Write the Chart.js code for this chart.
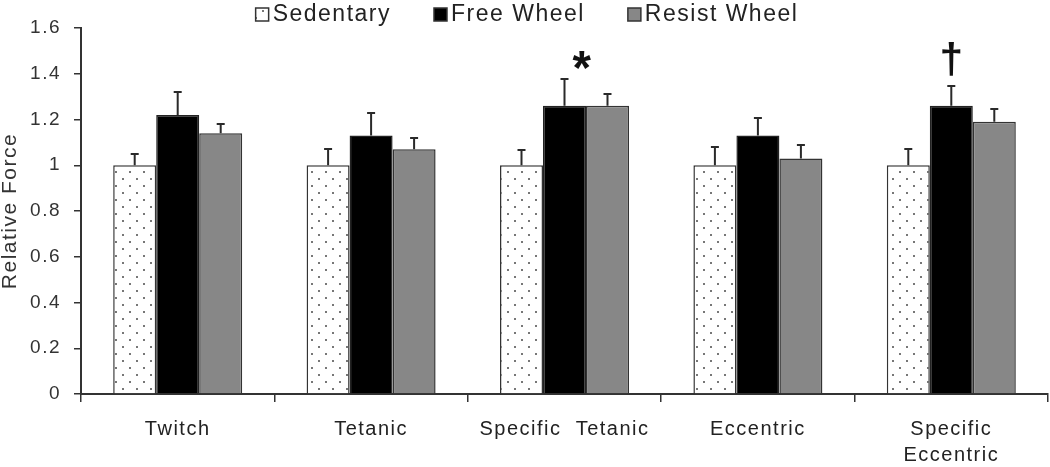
<!DOCTYPE html>
<html>
<head>
<meta charset="utf-8">
<script src="https://cdn.jsdelivr.net/npm/chart.js@4/dist/chart.umd.min.js"></script>
<style>
  body { margin: 0; background: #fff; }
  #wrap { width: 1050px; height: 467px; }
</style>
</head>
<body>
<div id="wrap"><canvas id="bar-chart" width="1050" height="467"></canvas></div>
<script>
// dati del grafico
var categorie = ['Twitch', 'Tetanic', 'Specific  Tetanic', 'Eccentric', ['Specific', 'Eccentric']];
var sedentary = [1.0, 1.0, 1.0, 1.0, 1.0];
var freeWheel = [1.22, 1.13, 1.26, 1.13, 1.26];
var resistWheel = [1.14, 1.07, 1.26, 1.03, 1.19];
var errSedentary = [0.05, 0.07, 0.065, 0.08, 0.07];
var errFree = [0.10, 0.10, 0.115, 0.075, 0.085];
var errResist = [0.04, 0.047, 0.05, 0.06, 0.057];
var yTicks = [0, 0.2, 0.4, 0.6, 0.8, 1, 1.2, 1.4, 1.6];
// simboli di significativita' sopra le barre Free Wheel
var simboli = ['', '', '*', '', '\u2020'];

var FONT = 'Liberation Sans';
var SPAZIO = '1.5px';

// pattern a puntini sfalsati per Sedentary
function dotPattern(){
    var c = document.createElement('canvas');
    c.width = 14; c.height = 14;
    var g = c.getContext('2d');
    g.fillStyle = '#fff';
    g.fillRect(0, 0, 14, 14);
    g.fillStyle = '#777';
    g.fillRect(3, 3, 2, 2);
    g.fillRect(10, 10, 2, 2);
    return g.createPattern(c, 'repeat');
}
var puntini = dotPattern();

var errori = [errSedentary, errFree, errResist];

// spaziatura lettere (il testo originale e' piu' largo)
var spaziatura = {
    id: 'spaziatura',
    beforeUpdate: function(chart){ chart.ctx.letterSpacing = SPAZIO; },
    beforeDraw: function(chart){ chart.ctx.letterSpacing = SPAZIO; }
};

function disegnaSimbolo(ctx, s, x, cy, h, bold){
    var f = (bold ? 'bold ' : '') + '100px "' + FONT + '"';
    ctx.font = f;
    var m = ctx.measureText(s);
    var size = 100 * h / (m.actualBoundingBoxAscent + m.actualBoundingBoxDescent);
    ctx.font = (bold ? 'bold ' : '') + size + 'px "' + FONT + '"';
    m = ctx.measureText(s);
    ctx.fillText(s, x, cy + (m.actualBoundingBoxAscent - m.actualBoundingBoxDescent) / 2);
}

var errorBars = {
    id: 'errorBars',
    afterDatasetsDraw: function(chart){
        var ctx = chart.ctx;
        var y = chart.scales.y;
        ctx.save();
        ctx.strokeStyle = '#2a2a2a';
        ctx.lineWidth = 2;
        chart.data.datasets.forEach(function(ds, i){
            var meta = chart.getDatasetMeta(i);
            meta.data.forEach(function(bar, j){
                var top = Math.round(y.getPixelForValue(ds.data[j] + errori[i][j]));
                ctx.beginPath();
                ctx.moveTo(bar.x, bar.y);
                ctx.lineTo(bar.x, top);
                ctx.moveTo(bar.x - 4, top);
                ctx.lineTo(bar.x + 4, top);
                ctx.stroke();
            });
        });
        // simboli
        var meta = chart.getDatasetMeta(1);
        ctx.letterSpacing = '0px';
        ctx.fillStyle = '#111';
        ctx.textAlign = 'center';
        ctx.textBaseline = 'alphabetic';
        meta.data.forEach(function(bar, j){
            if (!simboli[j]) return;
            var top = y.getPixelForValue(freeWheel[j] + errFree[j]);
            if (simboli[j] == '*') {
                disegnaSimbolo(ctx, '*', bar.x + bar.width * 0.4, top - 19, 18, true);
            } else {
                disegnaSimbolo(ctx, simboli[j], bar.x, top - 27, 34, true);
            }
        });
        ctx.restore();
    }
};

// legenda disegnata a mano in alto
var legenda = {
    id: 'legenda',
    afterDraw: function(chart){
        var ctx = chart.ctx;
        ctx.save();
        ctx.letterSpacing = SPAZIO;
        ctx.font = '23px "' + FONT + '"';
        var box = 13, gap = 4, sep = 43;
        var items = chart.data.datasets.map(function(ds){
            return { text: ds.label, fill: ds.backgroundColor, w: ctx.measureText(ds.label).width };
        });
        var tot = 0;
        items.forEach(function(it, k){ tot += box + gap + it.w + (k ? sep : 0); });
        var x = 527 - tot / 2;
        var yb = 8;
        ctx.textBaseline = 'alphabetic';
        ctx.textAlign = 'left';
        items.forEach(function(it){
            ctx.fillStyle = it.fill;
            ctx.fillRect(x, yb, box, box);
            ctx.strokeStyle = '#333';
            ctx.lineWidth = 1.5;
            ctx.strokeRect(x, yb, box, box);
            ctx.fillStyle = '#222';
            ctx.fillText(it.text, x + box + gap, 21);
            x += box + gap + it.w + sep;
        });
        ctx.restore();
    }
};

var ctx = document.getElementById('bar-chart');
var chart = new Chart(ctx, {
    type: 'bar',
    data: {
        labels: categorie,
        datasets: [{
            label: 'Sedentary',
            data: sedentary,
            backgroundColor: puntini,
            borderColor: '#333',
            borderWidth: 1.5
        }, {
            label: 'Free Wheel',
            data: freeWheel,
            backgroundColor: '#000',
            borderColor: '#222',
            borderWidth: 1.5
        }, {
            label: 'Resist Wheel',
            data: resistWheel,
            backgroundColor: '#878787',
            borderColor: '#333',
            borderWidth: 1.5
        }]
    },
    options: {
        responsive: false,
        animation: false,
        layout: { padding: { left: 0, right: 2, top: 28, bottom: 0 } },
        datasets: { bar: { categoryPercentage: 0.667, barPercentage: 1.0 } },
        plugins: {
            legend: { display: false },
            tooltip: { enabled: false }
        },
        scales: {
            x: {
                afterFit: function(axis){ axis.height = 73; },
                grid: {
                    offset: true,
                    drawOnChartArea: false,
                    tickLength: 8,
                    color: '#333',
                    lineWidth: 1.5
                },
                border: { color: '#333', width: 2 },
                ticks: {
                    font: { family: FONT, size: 20, lineHeight: 1.3 },
                    color: '#222',
                    padding: 14,
                    maxRotation: 0,
                    autoSkip: false
                }
            },
            y: {
                min: 0,
                max: 1.6,
                afterFit: function(axis){ axis.width = 81; },
                afterBuildTicks: function(axis){
                    axis.ticks = yTicks.map(function(v){ return { value: v }; });
                },
                grid: {
                    drawOnChartArea: false,
                    tickLength: 7,
                    color: '#333',
                    lineWidth: 1.5
                },
                border: { color: '#333', width: 2 },
                ticks: {
                    font: { family: FONT, size: 19 },
                    color: '#333',
                    padding: 13,
                    callback: function(v){ return String(+v.toFixed(1)); }
                },
                title: {
                    display: true,
                    text: 'Relative Force',
                    font: { family: FONT, size: 21, lineHeight: 1.0 },
                    color: '#333',
                    padding: { top: 0, bottom: 0 }
                }
            }
        }
    },
    plugins: [spaziatura, errorBars, legenda]
});
</script>
</body>
</html>
